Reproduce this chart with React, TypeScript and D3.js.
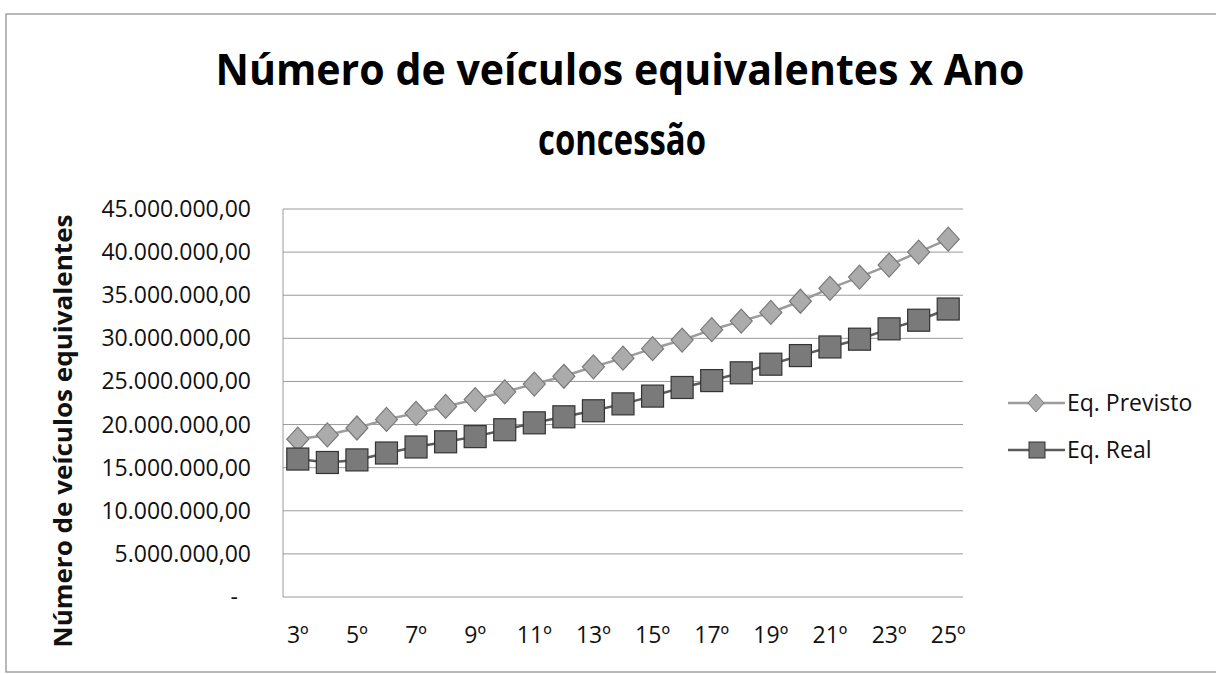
import React from "react";
import * as d3 from "d3";

const categories = [
  "3º", "4º", "5º", "6º", "7º", "8º", "9º", "10º", "11º", "12º", "13º", "14º",
  "15º", "16º", "17º", "18º", "19º", "20º", "21º", "22º", "23º", "24º", "25º",
];

// values in millions of equivalent vehicles
const previsto = [
  18.3, 18.8, 19.6, 20.6, 21.3, 22.1, 22.9, 23.8, 24.7, 25.6, 26.7, 27.7,
  28.8, 29.8, 31.0, 32.0, 33.0, 34.3, 35.8, 37.1, 38.5, 40.0, 41.5,
];
const real = [
  16.0, 15.6, 15.9, 16.7, 17.4, 18.0, 18.6, 19.4, 20.2, 20.9, 21.6, 22.4,
  23.3, 24.3, 25.1, 26.0, 27.0, 28.0, 29.0, 29.9, 31.1, 32.1, 33.4,
];

const yTicks = [0, 5, 10, 15, 20, 25, 30, 35, 40, 45];
const yTickLabels = [
  "-", "5.000.000,00", "10.000.000,00", "15.000.000,00", "20.000.000,00",
  "25.000.000,00", "30.000.000,00", "35.000.000,00", "40.000.000,00", "45.000.000,00",
];

const seriesNames = ["Eq. Previsto", "Eq. Real"];

const W = 1216;
const H = 674;
const plot = { left: 283, right: 963, top: 209, bottom: 597 };
const font = "'Open Sans', sans-serif";

const diamond = (x: number, y: number, r = 11) =>
  `M${x},${y - r - 1}L${x + r},${y}L${x},${y + r + 1}L${x - r},${y}Z`;

const App: React.FC = () => {
  const x = d3
    .scaleBand<string>()
    .domain(categories)
    .range([plot.left, plot.right]);
  const y = d3.scaleLinear().domain([0, 45]).range([plot.bottom, plot.top]);
  const cx = (c: string) => (x(c) ?? 0) + x.bandwidth() / 2;

  const line = d3
    .line<number>()
    .x((_, i) => cx(categories[i]))
    .y((d) => y(d));

  const legendY = [403, 450];

  return (
    <svg
      width={W}
      height={H}
      style={{ position: "absolute", left: 0, top: 0, background: "#fff" }}
      fontFamily={font}
    >
      <rect x={6} y={14} width={W} height={658} fill="#fff" stroke="#8a8a8a" strokeWidth={1.2} />

      {/* title */}
      <text x={620} y={85} textAnchor="middle" fontSize={43} fontWeight="bold" textLength={809} lengthAdjust="spacingAndGlyphs" fill="#000">
        Número de veículos equivalentes x Ano
      </text>
      <text x={622} y={155} textAnchor="middle" fontSize={43} fontWeight="bold" textLength={168} lengthAdjust="spacingAndGlyphs" fill="#000">
        concessão
      </text>

      {/* gridlines */}
      {yTicks.map((t) => (
        <line key={t} x1={plot.left} x2={plot.right} y1={y(t)} y2={y(t)} stroke="#9a9a9a" strokeWidth={1} />
      ))}
      <line x1={plot.left} x2={plot.left} y1={plot.top} y2={plot.bottom} stroke="#9a9a9a" strokeWidth={1} />

      {/* y tick labels */}
      {yTicks.map((t, i) => (
        <text key={t} x={t === 0 ? 238 : 251} y={y(t)} dy="0.35em" textAnchor="end" fontSize={23} fill="#111">
          {yTickLabels[i]}
        </text>
      ))}

      {/* x tick labels */}
      {categories.map((c, i) =>
        i % 2 === 0 ? (
          <text key={c} x={cx(c)} y={643} textAnchor="middle" fontSize={23} fill="#111">
            {c}
          </text>
        ) : null
      )}

      {/* y axis title */}
      <text
        transform={`translate(72,431) rotate(-90)`}
        textAnchor="middle"
        fontSize={25}
        fontWeight="bold"
        textLength={433}
        lengthAdjust="spacingAndGlyphs"
        fill="#111"
      >
        Número de veículos equivalentes
      </text>

      {/* series lines */}
      <path d={line(previsto) ?? ""} fill="none" stroke="#9c9c9c" strokeWidth={2.5} />
      <path d={line(real) ?? ""} fill="none" stroke="#5a5a5a" strokeWidth={2.5} />

      {/* markers */}
      {previsto.map((v, i) => (
        <path key={"p" + i} d={diamond(cx(categories[i]), y(v))} fill="#ababab" stroke="#7a7a7a" strokeWidth={1.2} />
      ))}
      {real.map((v, i) => (
        <rect key={"r" + i} x={cx(categories[i]) - 11} y={y(v) - 11} width={22} height={22} fill="#7a7a7a" stroke="#333" strokeWidth={1.2} />
      ))}

      {/* legend */}
      <line x1={1008} x2={1065} y1={legendY[0]} y2={legendY[0]} stroke="#9c9c9c" strokeWidth={2.5} />
      <path d={diamond(1036, legendY[0], 8)} fill="#ababab" stroke="#7a7a7a" strokeWidth={1} />
      <text x={1067} y={legendY[0]} dy="0.35em" fontSize={23} fill="#111">
        {seriesNames[0]}
      </text>
      <line x1={1008} x2={1065} y1={legendY[1]} y2={legendY[1]} stroke="#5a5a5a" strokeWidth={2.5} />
      <rect x={1029} y={legendY[1] - 8} width={16} height={16} fill="#7a7a7a" stroke="#333" strokeWidth={1} />
      <text x={1067} y={legendY[1]} dy="0.35em" fontSize={23} fill="#111">
        {seriesNames[1]}
      </text>
    </svg>
  );
};

export default App;
